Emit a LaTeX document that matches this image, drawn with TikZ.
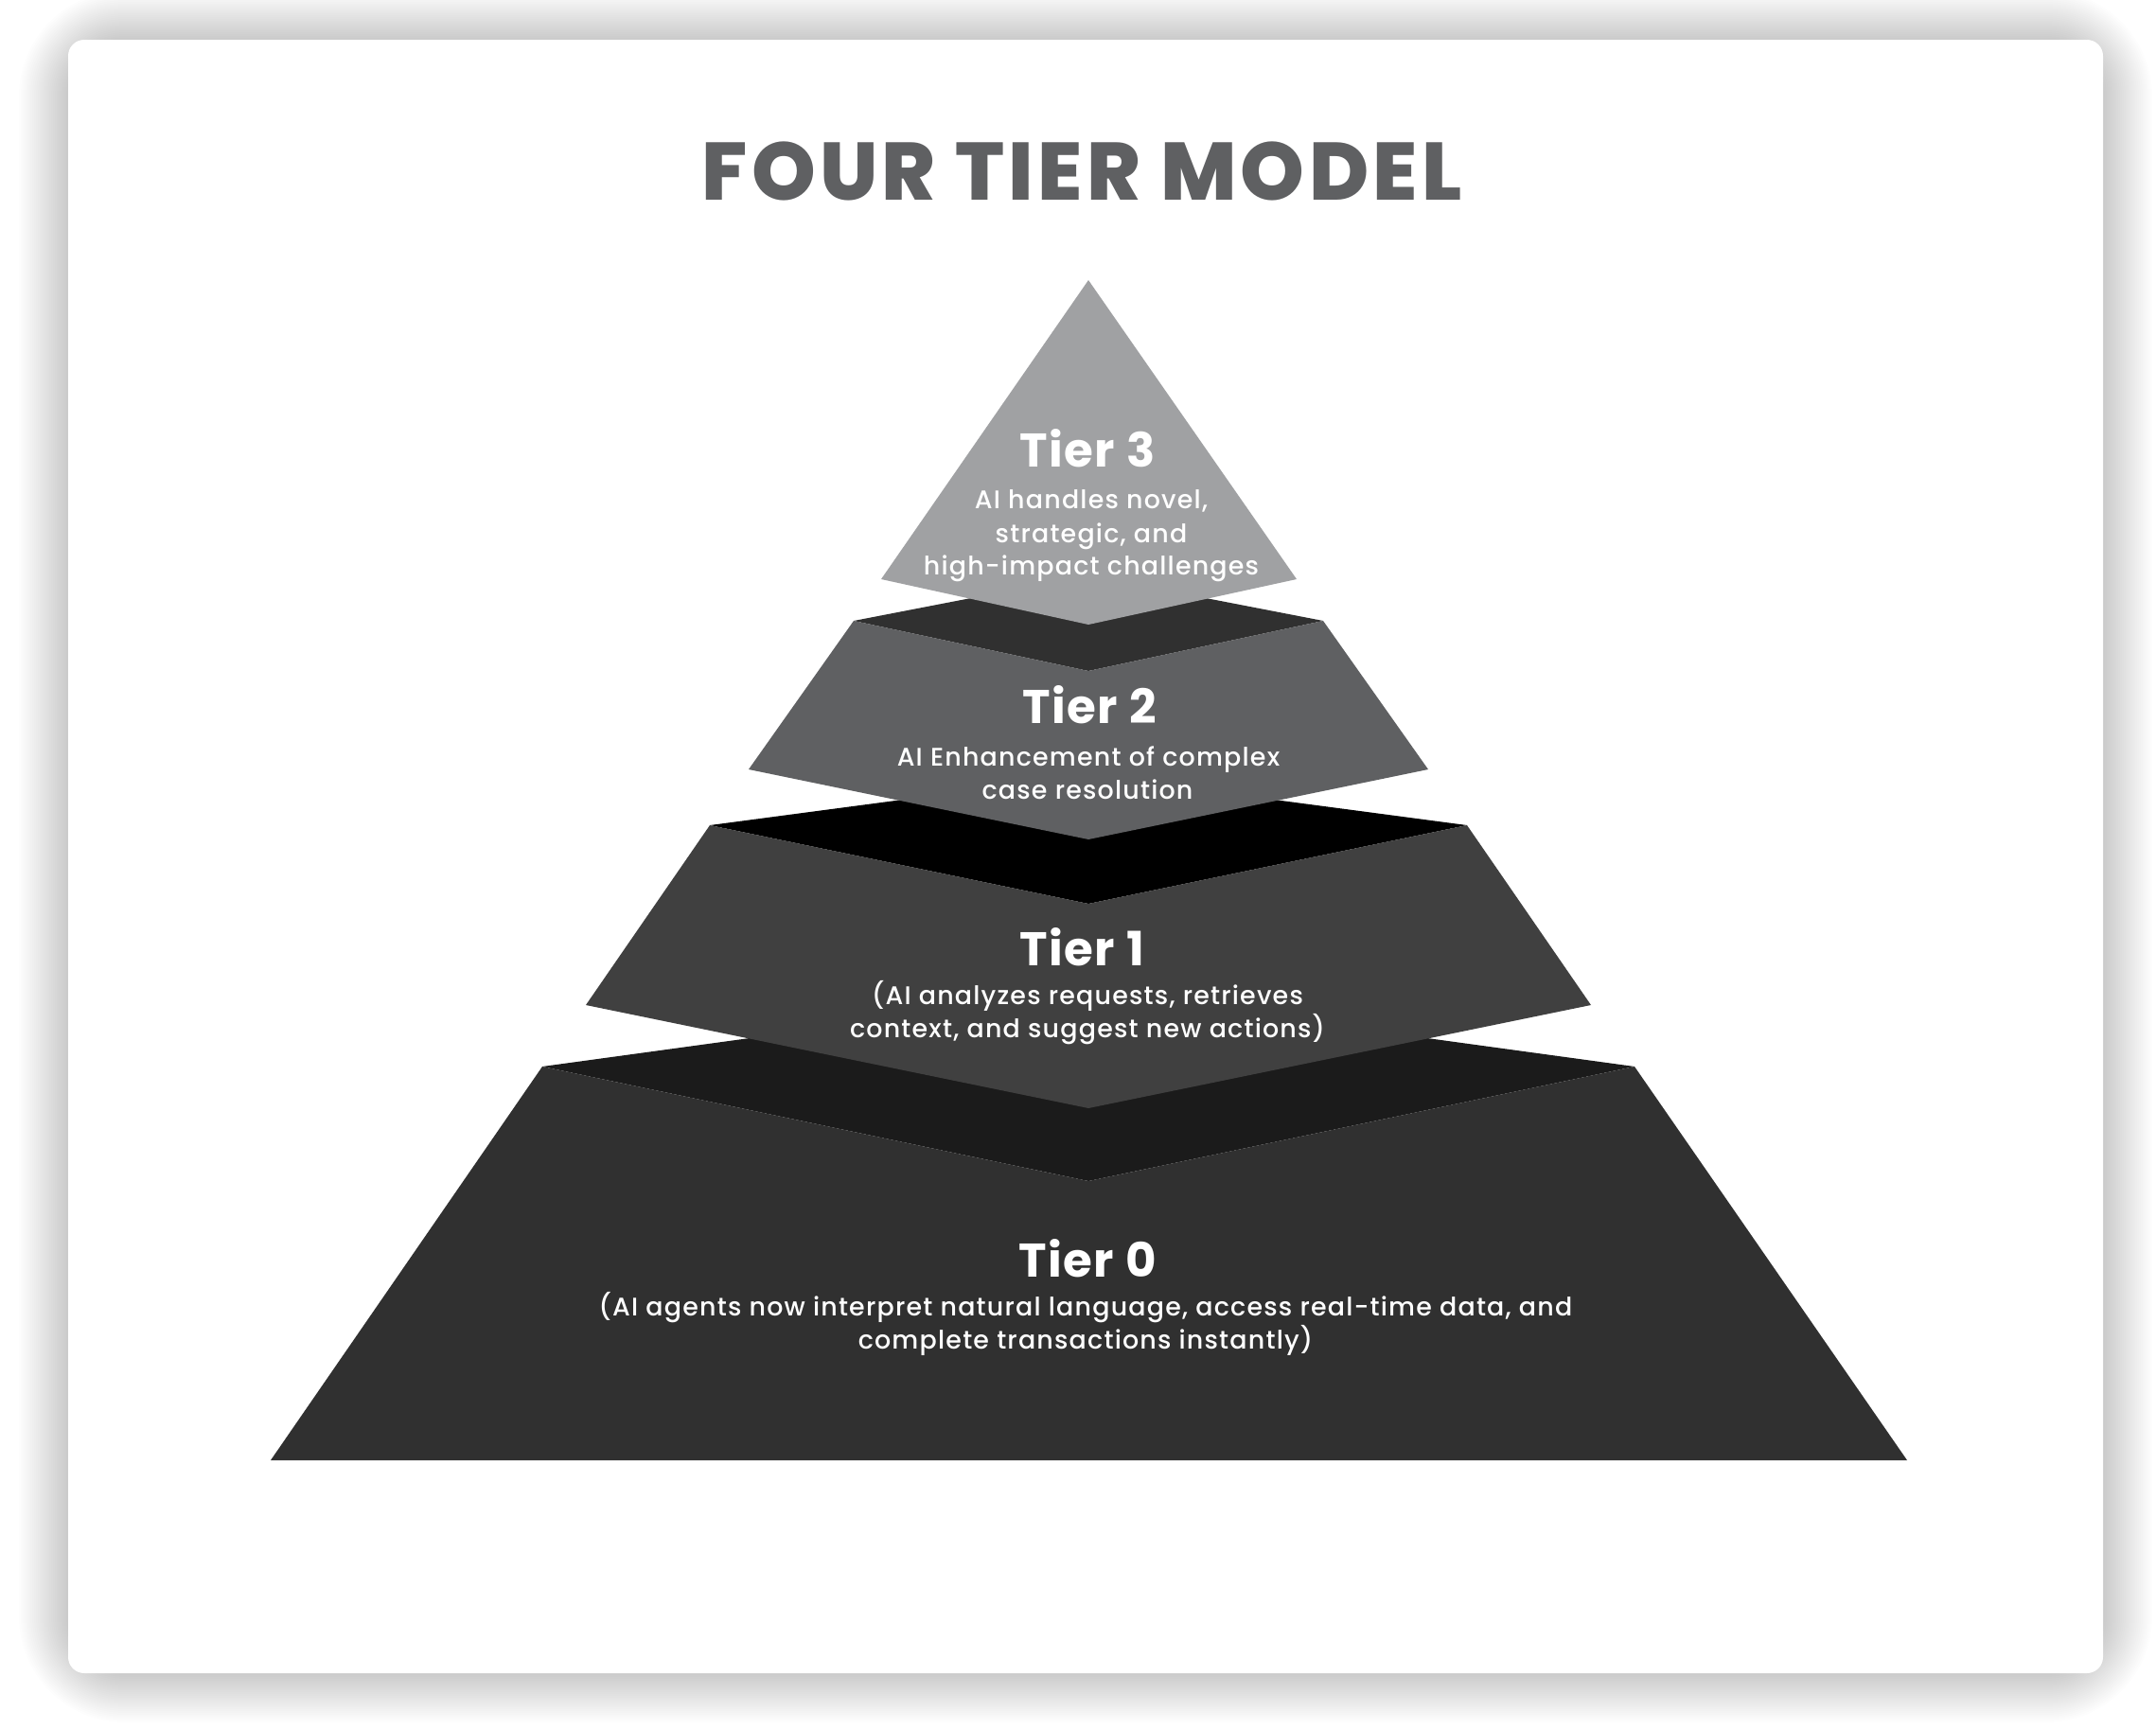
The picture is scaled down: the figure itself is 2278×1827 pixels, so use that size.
\documentclass[tikz,border=0pt]{standalone}
\usepackage{fontspec}
\setmainfont{Poppins}
\newfontfamily\titlefont{Poppins ExtraBold}[LetterSpace=5]
\newfontfamily\headfont{Poppins Bold}[LetterSpace=3]
\newfontfamily\bodyfont{Poppins Medium}[LetterSpace=4.5]
\usetikzlibrary{calc}
\definecolor{titlegray}{HTML}{5F6062}
\definecolor{tthree}{HTML}{A0A1A3}
\definecolor{ttwotop}{HTML}{303030}
\definecolor{ttwo}{HTML}{5F6062}
\definecolor{tonetop}{HTML}{000000}
\definecolor{tone}{HTML}{404040}
\definecolor{tzerotop}{HTML}{1B1B1B}
\definecolor{tzero}{HTML}{303030}
\tikzset{
  titlestyle/.style={anchor=base, inner sep=0pt, text=titlegray, font=\titlefont\fontsize{24.5}{30}\selectfont},
  tierhead/.style={anchor=base, inner sep=0pt, text=white, font=\headfont\fontsize{14.2}{17}\selectfont},
  tierbody/.style={anchor=base, inner sep=0pt, text=white, font=\bodyfont\fontsize{7.65}{10}\selectfont},
  face/.style={draw=none}
}
\begin{document}
\begin{tikzpicture}[x=0.01cm, y=-0.01cm]
\useasboundingbox (0,0) rectangle (2278,1827);
\fill[white] (0,0) rectangle (2278,1827);
% shadow
\foreach \e in {2,4,...,52}{
  \fill[black, fill opacity=0.0085, rounded corners=17+\e*0.01cm] (72-\e,42-\e) rectangle (2222+\e,1768+\e);
}
% card
\fill[white, rounded corners=0.17cm] (72,42) rectangle (2222,1768);
% title
\node[titlestyle] (title) at (1143,211) {FOUR TIER MODEL};
% Tier 0
\fill[tzerotop, face] (573,1127) -- (1150,1048) -- (1727,1127) -- (1150,1248) -- cycle;
\fill[tzero, face] (573,1127) -- (1150,1248) -- (1727,1127) -- (2015,1543) -- (286,1543) -- cycle;
% Tier 1
\fill[tonetop, face] (750,872) -- (1150,819) -- (1550,872) -- (1150,955) -- cycle;
\fill[tone, face] (750,872) -- (1150,955) -- (1550,872) -- (1681,1062) -- (1150,1171) -- (619,1062) -- cycle;
% Tier 2
\fill[ttwotop, face] (902,656) -- (1150,608) -- (1398,656) -- (1150,709) -- cycle;
\fill[ttwo, face] (902,656) -- (1150,709) -- (1398,656) -- (1509,813) -- (1150,887) -- (791,813) -- cycle;
% Tier 3
\fill[tthree, face] (1150,296) -- (1370,612) -- (1150,660) -- (931,612) -- cycle;
% texts
\node[tierhead] (t3h) at (1149,493) {Tier 3};
\node[tierbody] (t3a) at (1153,537) {AI handles novel,};
\node[tierbody] (t3b) at (1153,573) {strategic, and};
\node[tierbody] (t3c) at (1153,607) {high-impact challenges};
\node[tierhead] (t2h) at (1151,764) {Tier 2};
\node[tierbody] (t2a) at (1150,809) {AI Enhancement of complex};
\node[tierbody] (t2b) at (1149,844) {case resolution};
\node[tierhead] (t1h) at (1143,1020) {Tier 1};
\node[tierbody] (t1a) at (1149,1061) {(AI analyzes requests, retrieves};
\node[tierbody] (t1b) at (1149,1096) {context, and suggest new actions)};
\node[tierhead] (t0h) at (1149,1349) {Tier 0};
\node[tierbody] (t0a) at (1147,1390) {(AI agents now interpret natural language, access real-time data, and};
\node[tierbody] (t0b) at (1147,1425) {complete transactions instantly)};
\end{tikzpicture}
\end{document}
